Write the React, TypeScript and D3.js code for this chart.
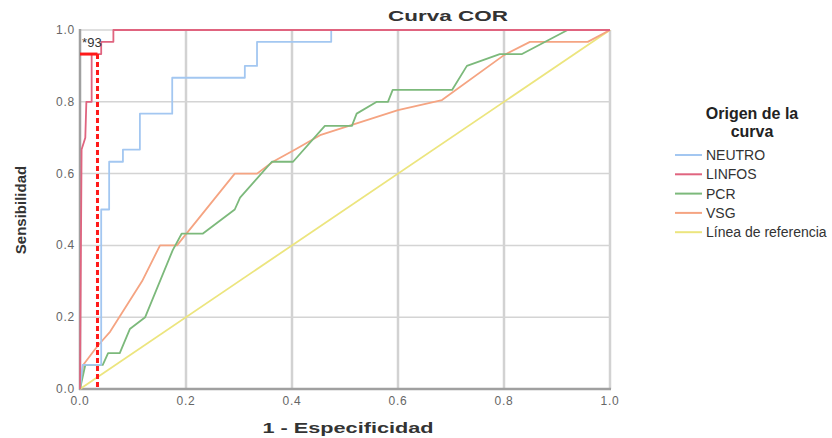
import React from 'react';
import * as d3 from 'd3';

// ROC curves: [1 - especificidad, sensibilidad]
const neutro: [number, number][] = [
  [0, 0], [0.005, 0.067], [0.04, 0.067], [0.04, 0.5], [0.055, 0.5], [0.055, 0.633],
  [0.081, 0.633], [0.081, 0.667], [0.113, 0.667], [0.113, 0.767], [0.174, 0.767],
  [0.174, 0.867], [0.311, 0.867], [0.311, 0.9], [0.334, 0.9], [0.334, 0.967],
  [0.474, 0.967], [0.474, 1], [1, 1],
];
const linfos: [number, number][] = [
  [0, 0], [0.003, 0.667], [0.01, 0.7], [0.012, 0.8], [0.022, 0.8], [0.022, 0.933],
  [0.04, 0.933], [0.04, 0.967], [0.063, 0.967], [0.063, 1], [1, 1],
];
const pcr: [number, number][] = [
  [0, 0], [0.01, 0.067], [0.043, 0.067], [0.053, 0.1], [0.075, 0.1], [0.094, 0.167],
  [0.123, 0.2], [0.175, 0.387], [0.192, 0.433], [0.232, 0.433], [0.292, 0.5],
  [0.302, 0.533], [0.362, 0.633], [0.402, 0.633], [0.462, 0.733], [0.513, 0.733],
  [0.522, 0.767], [0.56, 0.8], [0.581, 0.8], [0.59, 0.833], [0.702, 0.833],
  [0.73, 0.9], [0.792, 0.933], [0.834, 0.933], [0.92, 1], [1, 1],
];
const vsg: [number, number][] = [
  [0, 0], [0.006, 0.067], [0.028, 0.11], [0.041, 0.133], [0.057, 0.16], [0.117, 0.3],
  [0.151, 0.4], [0.183, 0.4], [0.292, 0.6], [0.334, 0.6], [0.364, 0.633],
  [0.406, 0.667], [0.453, 0.707], [0.6, 0.777], [0.683, 0.805], [0.8, 0.93],
  [0.849, 0.967], [0.958, 0.967], [1, 1],
];
const referencia: [number, number][] = [[0, 0], [1, 1]];

// cut point for LINFOS
const cutPoint: [number, number] = [0.033, 0.933];
const cutLabel = '*93';

const seriesNames = ['NEUTRO', 'LINFOS', 'PCR', 'VSG', 'Línea de referencia'];
const seriesData = [neutro, linfos, pcr, vsg, referencia];
const seriesColors = ['#a3c7f1', '#e0647f', '#7cb97b', '#f5a482', '#ece57e'];
const ticks = [0, 0.2, 0.4, 0.6, 0.8, 1.0];

const W = 832;
const H = 438;

export default function App() {
  const x = d3.scaleLinear().domain([0, 1]).range([80, 610]);
  const y = d3.scaleLinear().domain([0, 1]).range([389, 30]);
  const line = d3.line<[number, number]>().x(d => x(d[0])).y(d => y(d[1]));

  const font = 'Arial, "Liberation Sans", sans-serif';

  return (
    <svg width={W} height={H} style={{ position: 'absolute', left: 0, top: 0, background: '#fff' }} fontFamily={font}>
      {/* grid */}
      {ticks.slice(1).map(t => (
        <line key={'gx' + t} x1={x(t)} x2={x(t)} y1={y(1)} y2={y(0)} stroke="#d2d2d2" strokeWidth={2.5} />
      ))}
      {ticks.slice(1).map(t => (
        <line key={'gy' + t} x1={x(0)} x2={x(1)} y1={y(t)} y2={y(t)} stroke="#d4d4d4" strokeWidth={1.5} />
      ))}
      {/* axes */}
      <line x1={x(0)} x2={x(0)} y1={y(1) - 1} y2={y(0) + 1} stroke="#a0a0a0" strokeWidth={2.5} />
      <line x1={x(0) - 1} x2={x(1) + 1} y1={y(0)} y2={y(0)} stroke="#a0a0a0" strokeWidth={2.5} />

      {ticks.map(t => (
        <text key={'ty' + t} x={75} y={y(t) + 4} textAnchor="end" fontSize={12} fill="#666" letterSpacing={0.8}>
          {t.toFixed(1)}
        </text>
      ))}
      {ticks.map(t => (
        <text key={'tx' + t} x={x(t)} y={405} textAnchor="middle" fontSize={12} fill="#666" letterSpacing={0.8}>
          {t.toFixed(1)}
        </text>
      ))}

      {/* curves, reference first so it sits underneath */}
      {[4, 3, 2, 0, 1].map(i => (
        <path key={seriesNames[i]} d={line(seriesData[i]) || ''} fill="none" stroke={seriesColors[i]}
          strokeWidth={1.8} strokeLinejoin="round" />
      ))}

      {/* cut point markers */}
      <line x1={x(0)} x2={x(cutPoint[0])} y1={y(cutPoint[1])} y2={y(cutPoint[1])} stroke="#ff1a1a" strokeWidth={3} />
      <line x1={x(cutPoint[0])} x2={x(cutPoint[0])} y1={y(cutPoint[1])} y2={y(0)} stroke="#ff1a1a"
        strokeWidth={3} strokeDasharray="5,3" />
      <text x={x(0.004)} y={y(0.952)} fontSize={13} fill="#333">{cutLabel}</text>

      {/* titles */}
      <text x={448} y={21} textAnchor="middle" fontSize={15} fontWeight="bold" fill="#333"
        textLength={120} lengthAdjust="spacingAndGlyphs">Curva COR</text>
      <text x={348} y={433} textAnchor="middle" fontSize={15} fontWeight="bold" fill="#333"
        textLength={171} lengthAdjust="spacingAndGlyphs">1 - Especificidad</text>
      <text transform={`translate(26,210) rotate(-90)`} textAnchor="middle" fontSize={15} fontWeight="bold" fill="#333">
        Sensibilidad
      </text>

      {/* legend */}
      <text x={752} y={119} textAnchor="middle" fontSize={16} fontWeight="bold" fill="#222">Origen de la</text>
      <text x={752} y={137} textAnchor="middle" fontSize={16} fontWeight="bold" fill="#222">curva</text>
      {seriesNames.map((n, i) => (
        <g key={'lg' + n} transform={`translate(675,${155 + i * 19.3})`}>
          <line x1={0} x2={27} y1={0} y2={0} stroke={seriesColors[i]} strokeWidth={2} />
          <text x={31} y={5} fontSize={14} fill="#333">{n}</text>
        </g>
      ))}
    </svg>
  );
}
